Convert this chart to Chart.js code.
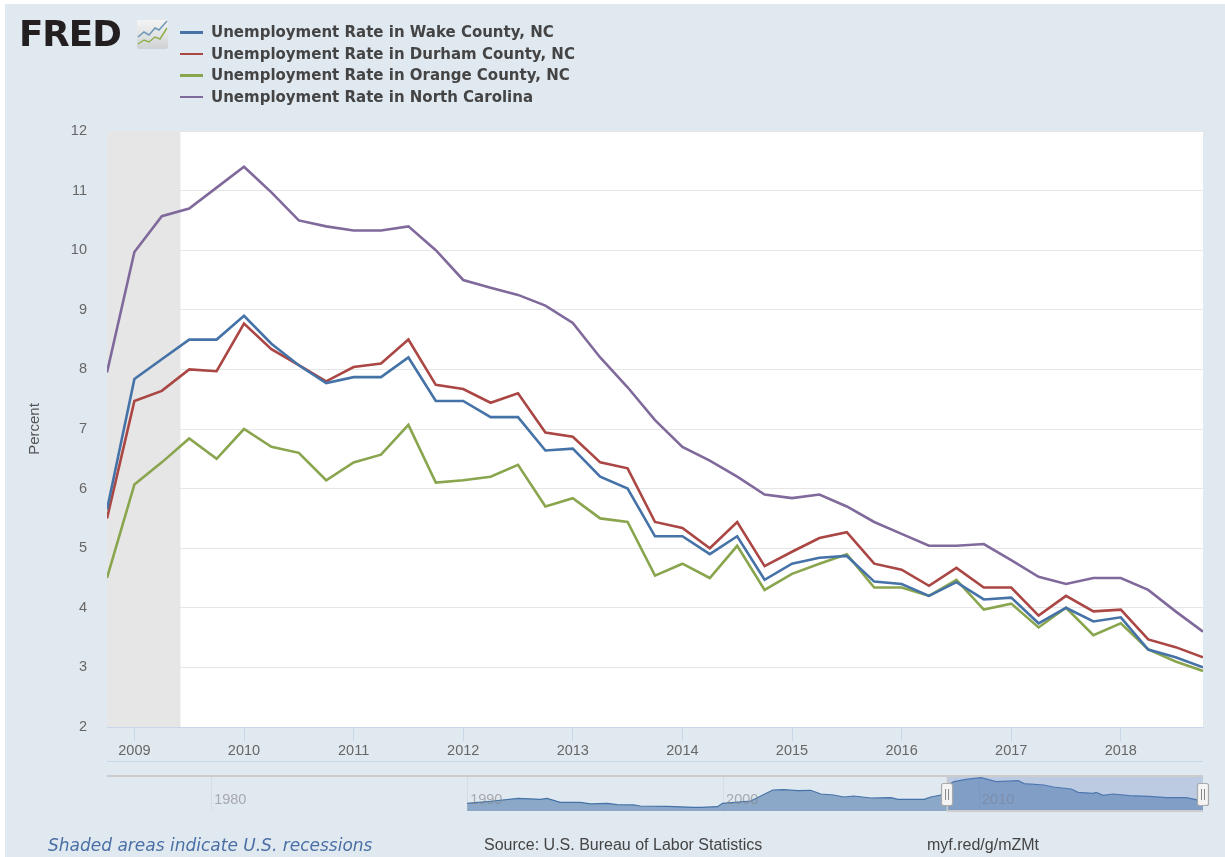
<!DOCTYPE html>
<html>
<head>
<meta charset="utf-8">
<title>FRED Unemployment Rate</title>
<script src="https://cdn.jsdelivr.net/npm/chart.js@4"></script>
<style>
html,body{margin:0;padding:0;background:#fff;width:1225px;height:857px;overflow:hidden}
#page{position:absolute;left:5px;top:4px;width:1220px;height:853px;background:#e1e9f0}
canvas{position:absolute;left:0;top:0}
.t{position:absolute;white-space:nowrap}
#logo{left:19px;top:15px;font:bold 35px "DejaVu Sans";color:#231f20;transform-origin:0 0;transform:scaleX(1.02);letter-spacing:-1px;line-height:38px}
#legend{position:absolute;left:180px;top:21px}
.li{position:absolute;left:0;height:22px;width:420px}
.li i{position:absolute;left:0;top:10px;width:23px;height:2.5px}
.li span{position:absolute;left:31px;top:0;font:bold 15px/22px "DejaVu Sans";color:#444;white-space:nowrap;transform-origin:0 50%}
</style>
</head>
<body>
<div id="page"></div>
<canvas id="main" width="1225" height="857"></canvas>
<canvas id="nav" width="1225" height="857"></canvas>
<div class="t" id="logo">FRED</div>
<svg class="t" style="left:137px;top:20px" width="32" height="30" viewBox="0 0 32 30">
<defs><linearGradient id="g" x1="0" y1="0" x2="0" y2="1"><stop offset="0" stop-color="#f4f4f4"/><stop offset="1" stop-color="#cfd2d4"/></linearGradient></defs>
<rect x="0" y="0" width="31" height="29" rx="2" fill="url(#g)"/>
<polyline points="1,17 7,12 12,15 18,8 22,10 30,1" fill="none" stroke="#6f98b8" stroke-width="1.5"/>
<polyline points="1,24 7,20 12,22 18,17 23,19 30,8" fill="none" stroke="#8fb04e" stroke-width="1.5"/>
</svg>
<div id="legend"></div>
<div class="t" style="left:48px;top:834px;font:italic 17px/22px 'DejaVu Sans';color:#4a6fa5;transform-origin:0 0" id="note">Shaded areas indicate U.S. recessions</div>
<div class="t" style="left:484px;top:834px;font:16px/22px 'Liberation Sans';color:#444">Source: U.S. Bureau of Labor Statistics</div>
<div class="t" style="left:927px;top:834px;font:16px/22px 'Liberation Sans';color:#444">myf.red/g/mZMt</div>
<script>
const quarters = ['2008-10',
 '2009-01','2009-04','2009-07','2009-10','2010-01','2010-04','2010-07','2010-10',
 '2011-01','2011-04','2011-07','2011-10','2012-01','2012-04','2012-07','2012-10',
 '2013-01','2013-04','2013-07','2013-10','2014-01','2014-04','2014-07','2014-10',
 '2015-01','2015-04','2015-07','2015-10','2016-01','2016-04','2016-07','2016-10',
 '2017-01','2017-04','2017-07','2017-10','2018-01','2018-04','2018-07','2018-10'];
const wake = [5.65,
 7.84,8.17,8.5,8.5, 8.9,8.43,8.07,7.77, 7.87,7.87,8.2,7.47, 7.47,7.2,7.2,6.64,
 6.67,6.2,6.0,5.2, 5.2,4.9,5.2,4.47, 4.74,4.84,4.87,4.44, 4.4,4.2,4.43,4.14,
 4.17,3.74,4.0,3.77, 3.84,3.3,3.17,3.0];
const durham = [5.5,
 7.47,7.64,8.0,7.97, 8.77,8.34,8.07,7.8, 8.04,8.1,8.5,7.74, 7.67,7.44,7.6,6.94,
 6.87,6.44,6.34,5.44, 5.34,5.0,5.44,4.7, 4.94,5.17,5.27,4.74, 4.64,4.37,4.67,4.34,
 4.34,3.87,4.2,3.94, 3.97,3.47,3.34,3.17];
const orange = [4.5,
 6.07,6.44,6.84,6.5, 7.0,6.7,6.6,6.14, 6.44,6.57,7.07,6.1, 6.14,6.2,6.4,5.7,
 5.84,5.5,5.44,4.54, 4.74,4.5,5.04,4.3, 4.57,4.74,4.9,4.34, 4.34,4.2,4.47,3.97,
 4.07,3.67,4.0,3.54, 3.74,3.3,3.1,2.94];
const northCarolina = [7.95,
 9.97,10.57,10.7,11.05, 11.4,10.97,10.5,10.4, 10.33,10.33,10.4,10.0, 9.5,9.37,9.25,9.07,
 8.78,8.2,7.7,7.15, 6.7,6.47,6.2,5.9, 5.84,5.9,5.7,5.44, 5.24,5.04,5.04,5.07,
 4.8,4.52,4.4,4.5, 4.5,4.3,3.94,3.6];
const seriesNames = ['Unemployment Rate in Wake County, NC','Unemployment Rate in Durham County, NC','Unemployment Rate in Orange County, NC','Unemployment Rate in North Carolina'];
const seriesColors = ['#4572a7','#aa4643','#89a54e','#80699b'];
const recession = [2008.75, 2009.42];
const yearTicks = [2009,2010,2011,2012,2013,2014,2015,2016,2017,2018];
const yTicks = [2,3,4,5,6,7,8,9,10,11,12];
const navYears = [1990,1991.02,1992,1992.86,1993.12,1993.64,1994.42,1994.82,1995.47,1995.86,1996.5,1996.77,1997.83,1998.85,1999.12,1999.78,1999.98,2001.08,2001.94,2002.37,2002.92,2003.42,2003.82,2004.32,2004.72,2005.11,2005.77,2006.56,2006.83,2007.85,2008.12,2008.51,2008.9,2009.02,2009.49,2010.08,2010.67,2011.53,2011.76,2012.54,2012.9,2013.6,2013.87,2014.46,2014.58,2014.85,2015.24,2015.87,2016.65,2017.32,2018.1,2018.61,2018.75];
const navValues = [2.2,2.8,3.5,3.24,3.5,2.46,2.46,2.03,2.2,1.85,1.77,1.5,1.42,1.16,1.16,1.33,2.2,2.8,5.66,5.75,5.49,5.58,4.62,4.36,3.84,4.1,3.58,3.67,3.24,3.24,3.84,4.36,7.4,7.83,8.43,8.87,7.83,8.09,7.31,6.96,6.44,5.92,5.06,4.8,5.06,4.28,4.62,4.19,4.02,3.67,3.67,2.98,3.0];
const navTickYears = [1980,1990,2000,2010];
const navSelection = [2008.75, 2018.75];

const toYear = q => { const [y,m] = q.split('-').map(Number); return y + (m-1)/12; };
const xs = quarters.map(toYear);
const pts = vals => vals.map((v,i)=>({x:xs[i],y:v}));
const allSeries = [wake,durham,orange,northCarolina];

const LEFT=107, RIGHT=22, TOP=131, BOTTOM=130;
const backPlugin = {
  id:'back',
  beforeDraw(c){
    const a=c.chartArea, g=c.ctx;
    g.save(); g.fillStyle='#fff'; g.fillRect(a.left,a.top,a.right-a.left,a.bottom-a.top); g.restore();
  },
  beforeDatasetsDraw(c){
    const a=c.chartArea, g=c.ctx, x=c.scales.x;
    g.save(); g.fillStyle='#e6e6e6';
    const x0=x.getPixelForValue(recession[0]), x1=x.getPixelForValue(recession[1]);
    g.fillRect(x0,a.top,x1-x0,a.bottom-a.top); g.restore();
  }
};
const mainChart = new Chart(document.getElementById('main'),{
  type:'line',
  data:{datasets:allSeries.map((s,i)=>({label:seriesNames[i],data:pts(s),borderColor:seriesColors[i],backgroundColor:seriesColors[i],borderWidth:2.6,pointRadius:0,tension:0,borderJoinStyle:'miter',fill:false}))},
  options:{
    responsive:false,animation:false,
    layout:{padding:{left:0,right:RIGHT,top:TOP,bottom:0}},
    plugins:{legend:{display:false},tooltip:{enabled:false}},
    scales:{
      x:{type:'linear',min:2008.75,max:2018.75,
        afterBuildTicks(s){s.ticks=yearTicks.map(v=>({value:v}));},
        afterFit(s){s.height=BOTTOM;},
        grid:{drawOnChartArea:false,drawTicks:true,tickLength:14,color:'#c8d6ea'},
        border:{color:'#c8d6ea',width:1},
        ticks:{callback:v=>String(v),color:'#666',font:{family:'Liberation Sans',size:14.5},padding:1,maxRotation:0,autoSkip:false}
      },
      y:{type:'linear',min:2,max:12,
        afterBuildTicks(s){s.ticks=yTicks.map(v=>({value:v}));},
        afterFit(s){s.width=LEFT;},
        grid:{color:'#e6e6e6',drawTicks:false,lineWidth:1},
        border:{display:false},
        ticks:{color:'#666',font:{family:'Liberation Sans',size:14.5},padding:20,callback:v=>String(v)},
        title:{display:true,text:'Percent',color:'#555',font:{family:'Liberation Sans',size:15},padding:{top:26,bottom:0}}
      }
    }
  },
  plugins:[backPlugin]
});

const navPlugin = {
  id:'navDeco',
  beforeDatasetsDraw(c){
    const a=c.chartArea,g=c.ctx,x=c.scales.x;
    g.save();
    g.strokeStyle='#c8d6ea';g.lineWidth=1;
    g.beginPath();g.moveTo(a.left,761.5);g.lineTo(a.right,761.5);g.stroke();
    g.strokeStyle='#d8dde2';
    navTickYears.forEach(v=>{const p=Math.round(x.getPixelForValue(v))+.5;g.beginPath();g.moveTo(p,a.top);g.lineTo(p,a.bottom);g.stroke();});
    g.restore();
  },
  afterDatasetsDraw(c){
    const a=c.chartArea,g=c.ctx,x=c.scales.x;
    g.save();
    g.font='14.5px "Liberation Sans"';g.fillStyle='rgba(130,130,130,0.62)';g.textBaseline='middle';g.textAlign='left';
    navTickYears.forEach(v=>g.fillText(String(v),x.getPixelForValue(v)+3,800));
    const s0=x.getPixelForValue(navSelection[0]),s1=x.getPixelForValue(navSelection[1]);
    g.fillStyle='rgba(102,133,194,0.3)';g.fillRect(s0,a.top,s1-s0,a.bottom-a.top);
    g.fillStyle='#cccccc';
    g.fillRect(a.left,a.top-1,a.right-a.left,2);
    g.fillRect(s0,a.bottom-1,s1-s0,2);
    g.fillRect(s0-.5,a.top,1.5,a.bottom-a.top);
    [s0,s1].forEach(p=>{
      g.fillStyle='#f4f4f4';g.strokeStyle='#aaa';g.lineWidth=1.2;
      g.beginPath();g.roundRect(p-5.5,783.5,11,22,2);g.fill();g.stroke();
      g.strokeStyle='#888';g.lineWidth=1;
      g.beginPath();g.moveTo(p-1.5,789);g.lineTo(p-1.5,800);g.moveTo(p+1.5,789);g.lineTo(p+1.5,800);g.stroke();
    });
    g.restore();
  }
};
const navChart = new Chart(document.getElementById('nav'),{
  type:'line',
  data:{datasets:[{data:navYears.map((y,i)=>({x:y,y:navValues[i]})),borderColor:'#4572a7',borderWidth:1.2,backgroundColor:'rgba(69,114,167,0.55)',fill:'start',pointRadius:0,tension:0}]},
  options:{
    responsive:false,animation:false,
    layout:{padding:{left:LEFT,right:RIGHT,top:776,bottom:46}},
    plugins:{legend:{display:false},tooltip:{enabled:false}},
    scales:{
      x:{type:'linear',min:1975.93,max:2018.75,display:false},
      y:{type:'linear',min:0.2,max:9.3,display:false}
    }
  },
  plugins:[navPlugin]
});

const legend=document.getElementById('legend');
mainChart.data.datasets.forEach((d,i)=>{
  const row=document.createElement('div');row.className='li';row.style.top=(i*21.6)+'px';
  const sw=document.createElement('i');sw.style.background=d.borderColor;
  const tx=document.createElement('span');tx.textContent=d.label;
  row.append(sw,tx);legend.append(row);
});
</script>
</body>
</html>
